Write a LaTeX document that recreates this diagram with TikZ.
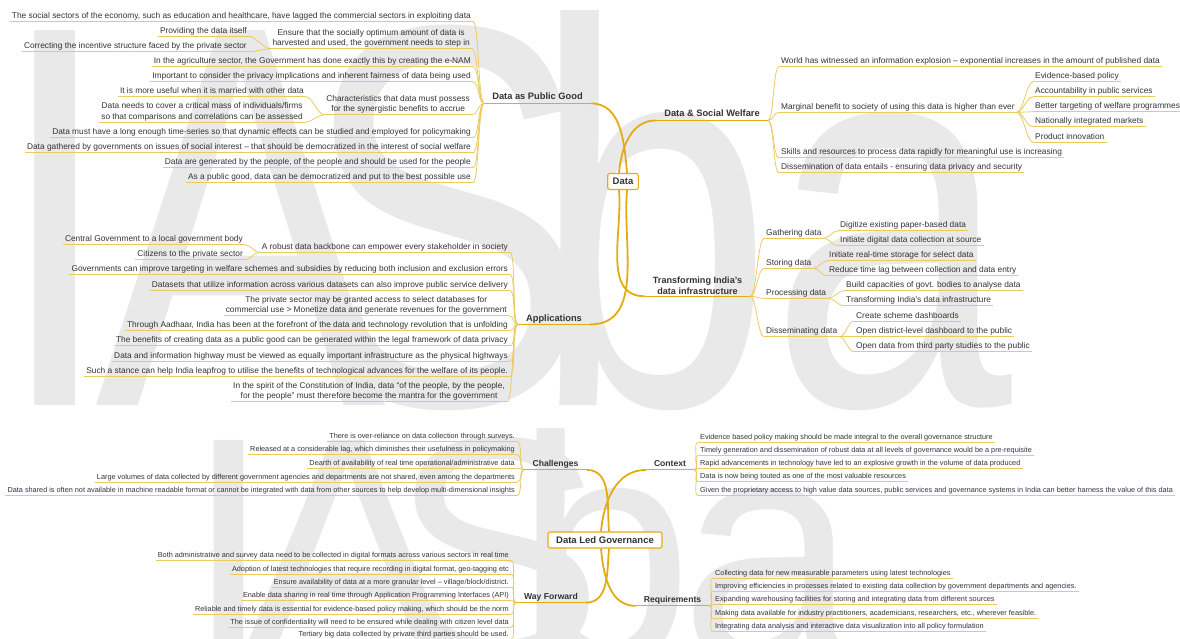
\documentclass[tikz,border=0pt]{standalone}
\usepackage{fontspec}
\setmainfont{Liberation Sans}
\usetikzlibrary{positioning}
\definecolor{txt}{HTML}{333333}
\definecolor{gold}{HTML}{E2AC12}
\definecolor{lgold}{HTML}{E9CB62}
\definecolor{wmgray}{HTML}{E9E9E9}

\begin{document}
\begin{tikzpicture}[x=1pt,y=1pt,
  ulin/.style={append after command={(\tikzlastnode.south west) edge[draw=lgold,line width=0.7pt] (\tikzlastnode.south east)}},
  hubl/.style={append after command={(\tikzlastnode.south west) edge[draw=gold,line width=1.1pt] (\tikzlastnode.south east)}},
  lf/.style={font=\fontsize{8.35}{10.5}\selectfont, text=txt, inner xsep=2pt, inner ysep=1pt,
             text height=6.2pt, text depth=2pt, ulin},
  lftwo/.style={font=\fontsize{8.35}{10.5}\selectfont, text=txt, inner xsep=2pt, inner ysep=1pt,
                align=center, ulin},
  lfs/.style={font=\fontsize{7.3}{8.5}\selectfont, text=txt, inner xsep=2pt, inner ysep=1pt,
              text height=5.3pt, text depth=1.8pt, ulin},
  hub/.style={font=\fontsize{9.3}{11.5}\selectfont\bfseries, text=txt, inner xsep=8pt, inner ysep=1.2pt,
              text height=7pt, text depth=2pt, hubl},
  hubtwo/.style={font=\fontsize{9.1}{11}\selectfont\bfseries, text=txt, inner xsep=8pt, inner ysep=1.2pt,
                 align=center, hubl},
  hubs/.style={hub, font=\fontsize{8.6}{10}\selectfont\bfseries},
  box/.style={draw=gold, fill=white, rounded corners=2pt, line width=1.1pt, text=txt,
              font=\fontsize{9.5}{11}\selectfont\bfseries, inner xsep=5pt, inner ysep=3pt, minimum height=16pt},
  br/.style={draw=lgold, line width=0.8pt},
  trunk/.style={draw=gold, line width=1.8pt},
  wmk/.style={font=\fontsize{545}{545}\selectfont, text=wmgray, inner sep=0pt, anchor=base west, xscale=0.8},
  wmks/.style={wmk, font=\fontsize{320}{320}\selectfont, xscale=1.25}
]
\useasboundingbox (0,0) rectangle (1180,-639);

% watermark
\begin{scope}
\clip (0,0) rectangle (1180,-639);
\node[wmk] (wmI) at (-6,-405) {I};
\node[wmk] (wmA) at (95,-405) {A};
\node[wmk] (wmS) at (300,-405) {S};
\node[wmk] (wmb) at (531,-405) {b};
\node[wmk] (wma) at (769,-405) {a};
\node[wmks] (wmIs) at (184,-660) {I};
\node[wmks] (wmAs) at (240,-660) {A};
\node[wmks] (wmSs) at (390,-660) {S};
\node[wmks] (wmbs) at (515,-660) {b};
\node[wmks] (wmas) at (680,-660) {a};
\end{scope}

% centre nodes
\node[box] (dat) at (623,-181.5) {Data};
\node[box, minimum width=114pt] (dlg) at (605,-540) {Data Led Governance};

% Data as Public Good
\node[hub] (pg) at (537.5,-97.5) {Data as Public Good};
\node[lf, anchor=east] (pg1) at (473,-16) {The social sectors of the economy, such as education and healthcare, have lagged the commercial sectors in exploiting data};
\node[lftwo, anchor=east] (pg2) at (472,-38.5) {Ensure that the socially optimum amount of data is\\harvested and used, the government needs to step in};
\node[lf, anchor=east] (pg2a) at (249,-31) {Providing the data itself};
\node[lf, anchor=east] (pg2b) at (249,-46.5) {Correcting the incentive structure faced by the private sector};
\node[lf, anchor=east] (pg3) at (473,-61) {In the agriculture sector, the Government has done exactly this by creating the e-NAM};
\node[lf, anchor=east] (pg4) at (473,-76.5) {Important to consider the privacy implications and inherent fairness of data being used};
\node[lftwo, anchor=east] (pg5) at (472,-104.5) {Characteristics that data must possess\\for the synergistic benefits to accrue};
\node[lf, anchor=east] (pg5a) at (306,-91.5) {It is more useful when it is married with other data};
\node[lftwo, anchor=east] (pg5b) at (305,-112) {Data needs to cover a critical mass of individuals/firms\\so that comparisons and correlations can be assessed};
\node[lf, anchor=east] (pg6) at (473,-132.5) {Data must have a long enough time-series so that dynamic effects can be studied and employed for policymaking};
\node[lf, anchor=east] (pg7) at (473,-147.5) {Data gathered by governments on issues of social interest -- that should be democratized in the interest of social welfare};
\node[lf, anchor=east] (pg8) at (473,-162.5) {Data are generated by the people, of the people and should be used for the people};
\node[lf, anchor=east] (pg9) at (473,-177.5) {As a public good, data can be democratized and put to the best possible use};

% Data & Social Welfare
\node[hub] (sw) at (712,-114.5) {Data \& Social Welfare};
\node[lf, anchor=west] (sw1) at (779,-61.5) {World has witnessed an information explosion -- exponential increases in the amount of published data};
\node[lf, anchor=west] (sw2) at (779,-107) {Marginal benefit to society of using this data is higher than ever};
\node[lf, anchor=west] (sw2a) at (1033,-76.5) {Evidence-based policy};
\node[lf, anchor=west] (sw2b) at (1033,-91.5) {Accountability in public services};
\node[lf, anchor=west] (sw2c) at (1033,-106.5) {Better targeting of welfare programmes};
\node[lf, anchor=west] (sw2d) at (1033,-121.5) {Nationally integrated markets};
\node[lf, anchor=west] (sw2e) at (1033,-137) {Product innovation};
\node[lf, anchor=west] (sw3) at (779,-152.5) {Skills and resources to process data rapidly for meaningful use is increasing};
\node[lf, anchor=west] (sw4) at (779,-167.5) {Dissemination of data entails - ensuring data privacy and security};

% Transforming India's data infrastructure
\node[hubtwo] (tr) at (697.5,-286) {Transforming India's\\data infrastructure};
\node[lf, anchor=west] (tr1) at (764,-233) {Gathering data};
\node[lf, anchor=west] (tr1a) at (838,-225.5) {Digitize existing paper-based data};
\node[lf, anchor=west] (tr1b) at (838,-240.5) {Initiate digital data collection at source};
\node[lf, anchor=west] (tr2) at (764,-263) {Storing data};
\node[lf, anchor=west] (tr2a) at (827,-255.5) {Initiate real-time storage for select data};
\node[lf, anchor=west] (tr2b) at (827,-270.5) {Reduce time lag between collection and data entry};
\node[lf, anchor=west] (tr3) at (764,-293) {Processing data};
\node[lf, anchor=west] (tr3a) at (844,-285.5) {Build capacities of govt. bodies to analyse data};
\node[lf, anchor=west] (tr3b) at (844,-300.5) {Transforming India's data infrastructure};
\node[lf, anchor=west] (tr4) at (764,-331.5) {Disseminating data};
\node[lf, anchor=west] (tr4a) at (854,-316) {Create scheme dashboards};
\node[lf, anchor=west] (tr4b) at (854,-331.5) {Open district-level dashboard to the public};
\node[lf, anchor=west] (tr4c) at (854,-346.5) {Open data from third party studies to the public};

% Applications
\node[hub] (ap) at (554,-318.5) {Applications};
\node[lf, anchor=east] (ap1) at (510,-247) {A robust data backbone can empower every stakeholder in society};
\node[lf, anchor=east] (ap1a) at (245,-239.5) {Central Government to a local government body};
\node[lf, anchor=east] (ap1b) at (245,-254.5) {Citizens to the private sector};
\node[lf, anchor=east] (ap2) at (510,-269.5) {Governments can improve targeting in welfare schemes and subsidies by reducing both inclusion and exclusion errors};
\node[lf, anchor=east] (ap3) at (510,-285.5) {Datasets that utilize information across various datasets can also improve public service delivery};
\node[lftwo, anchor=east] (ap4) at (509,-305.5) {The private sector may be granted access to select databases for\\commercial use > Monetize data and generate revenues for the government};
\node[lf, anchor=east] (ap5) at (510,-325) {Through Aadhaar, India has been at the forefront of the data and technology revolution that is unfolding};
\node[lf, anchor=east] (ap6) at (510,-340.5) {The benefits of creating data as a public good can be generated within the legal framework of data privacy};
\node[lf, anchor=east] (ap7) at (510,-356) {Data and information highway must be viewed as equally important infrastructure as the physical highways};
\node[lf, anchor=east] (ap8) at (510,-371) {Such a stance can help India leapfrog to utilise the benefits of technological advances for the welfare of its people.};
\node[lftwo, anchor=east] (ap9) at (507,-391.5) {In the spirit of the Constitution of India, data ``of the people, by the people,\\for the people'' must therefore become the mantra for the government};

% Challenges
\node[hubs] (ch) at (555.5,-464) {Challenges};
\node[lfs, anchor=east] (ch1) at (517,-436.7) {There is over-reliance on data collection through surveys.};
\node[lfs, anchor=east] (ch2) at (517,-450) {Released at a considerable lag, which diminishes their usefulness in policymaking};
\node[lfs, anchor=east] (ch3) at (517,-463.5) {Dearth of availability of real time operational/administrative data};
\node[lfs, anchor=east] (ch4) at (517,-477.3) {Large volumes of data collected by different government agencies and departments are not shared, even among the departments};
\node[lfs, anchor=east] (ch5) at (517,-490.7) {Data shared is often not available in machine readable format or cannot be integrated with data from other sources to help develop multi-dimensional insights};

% Context
\node[hubs] (cx) at (670,-464) {Context};
\node[lfs, anchor=west] (cx1) at (698,-437.7) {Evidence based policy making should be made integral to the overall governance structure};
\node[lfs, anchor=west] (cx2) at (698,-451) {Timely generation and dissemination of robust data at all levels of governance would be a pre-requisite};
\node[lfs, anchor=west] (cx3) at (698,-464) {Rapid advancements in technology have led to an explosive growth in the volume of data produced};
\node[lfs, anchor=west] (cx4) at (698,-477) {Data is now being touted as one of the most valuable resources};
\node[lfs, anchor=west] (cx5) at (698,-490.7) {Given the proprietary access to high value data sources, public services and governance systems in India can better harness the value of this data};

% Way Forward
\node[hubs] (wf) at (551,-596.7) {Way Forward};
\node[lfs, anchor=east] (wf1) at (511,-555.7) {Both administrative and survey data need to be collected in digital formats across various sectors in real time};
\node[lfs, anchor=east] (wf2) at (511,-569.3) {Adoption of latest technologies that require recording in digital format, geo-tagging etc};
\node[lfs, anchor=east] (wf3) at (511,-582.7) {Ensure availability of data at a more granular level -- village/block/district.};
\node[lfs, anchor=east] (wf4) at (511,-596) {Enable data sharing in real time through Application Programming Interfaces (API)};
\node[lfs, anchor=east] (wf5) at (511,-609.3) {Reliable and timely data is essential for evidence-based policy making, which should be the norm};
\node[lfs, anchor=east] (wf6) at (511,-622.3) {The issue of confidentiality will need to be ensured while dealing with citizen level data};
\node[lfs, anchor=east] (wf7) at (511,-634.5) {Tertiary big data collected by private third parties should be used.};

% Requirements
\node[hubs] (rq) at (672.5,-600) {Requirements};
\node[lfs, anchor=west] (rq1) at (713,-573.3) {Collecting data for new measurable parameters using latest technologies};
\node[lfs, anchor=west] (rq2) at (713,-586.7) {Improving efficiencies in processes related to existing data collection by government departments and agencies.};
\node[lfs, anchor=west] (rq3) at (713,-600) {Expanding warehousing facilities for storing and integrating data from different sources};
\node[lfs, anchor=west] (rq4) at (713,-613.3) {Making data available for industry practitioners, academicians, researchers, etc., wherever feasible.};
\node[lfs, anchor=west] (rq5) at (713,-626.7) {Integrating data analysis and interactive data visualization into all policy formulation};

% trunks
\draw[trunk] ([xshift=4pt]dat.north) to[out=95,in=0] (pg.south east);
\draw[trunk] ([xshift=-4pt]dat.north) to[out=85,in=180] (sw.south west);
\draw[trunk] ([xshift=4pt]dat.south) to[out=265,in=0] (ap.south east);
\draw[trunk] ([xshift=-4pt]dat.south) to[out=275,in=180] (tr.south west);
\draw[trunk] ([xshift=4pt]dlg.north) to[out=95,in=0] (ch.south east);
\draw[trunk] ([xshift=-4pt]dlg.north) to[out=85,in=180] (cx.south west);
\draw[trunk] ([xshift=4pt]dlg.south) to[out=265,in=0] (wf.south east);
\draw[trunk] ([xshift=-4pt]dlg.south) to[out=275,in=180] (rq.south west);

% branches, left side
\foreach \nd in {pg1,pg2,pg3,pg4,pg5,pg6,pg7,pg8,pg9}
  \draw[br] (pg.south west) to[out=180,in=0,distance=6pt] (\nd.south east);
\foreach \nd in {pg2a,pg2b}
  \draw[br] (pg2.south west) to[out=180,in=0,distance=6pt] (\nd.south east);
\foreach \nd in {pg5a,pg5b}
  \draw[br] (pg5.south west) to[out=180,in=0,distance=6pt] (\nd.south east);
\foreach \nd in {ap1,ap2,ap3,ap4,ap5,ap6,ap7,ap8,ap9}
  \draw[br] (ap.south west) to[out=180,in=0,distance=6pt] (\nd.south east);
\foreach \nd in {ap1a,ap1b}
  \draw[br] (ap1.south west) to[out=180,in=0,distance=6pt] (\nd.south east);
\foreach \nd in {ch1,ch2,ch3,ch4,ch5}
  \draw[br] (ch.south west) to[out=180,in=0,distance=6pt] (\nd.south east);
\foreach \nd in {wf1,wf2,wf3,wf4,wf5,wf6,wf7}
  \draw[br] (wf.south west) to[out=180,in=0,distance=6pt] (\nd.south east);

% branches, right side
\foreach \nd in {sw1,sw2,sw3,sw4}
  \draw[br] (sw.south east) to[out=0,in=180,distance=6pt] (\nd.south west);
\foreach \nd in {sw2a,sw2b,sw2c,sw2d,sw2e}
  \draw[br] (sw2.south east) to[out=0,in=180,distance=6pt] (\nd.south west);
\foreach \nd in {tr1,tr2,tr3,tr4}
  \draw[br] (tr.south east) to[out=0,in=180,distance=6pt] (\nd.south west);
\foreach \nd in {tr1a,tr1b}
  \draw[br] (tr1.south east) to[out=0,in=180,distance=6pt] (\nd.south west);
\foreach \nd in {tr2a,tr2b}
  \draw[br] (tr2.south east) to[out=0,in=180,distance=6pt] (\nd.south west);
\foreach \nd in {tr3a,tr3b}
  \draw[br] (tr3.south east) to[out=0,in=180,distance=6pt] (\nd.south west);
\foreach \nd in {tr4a,tr4b,tr4c}
  \draw[br] (tr4.south east) to[out=0,in=180,distance=6pt] (\nd.south west);
\foreach \nd in {cx1,cx2,cx3,cx4,cx5}
  \draw[br] (cx.south east) to[out=0,in=180,distance=6pt] (\nd.south west);
\foreach \nd in {rq1,rq2,rq3,rq4,rq5}
  \draw[br] (rq.south east) to[out=0,in=180,distance=6pt] (\nd.south west);
\end{tikzpicture}
\end{document}
